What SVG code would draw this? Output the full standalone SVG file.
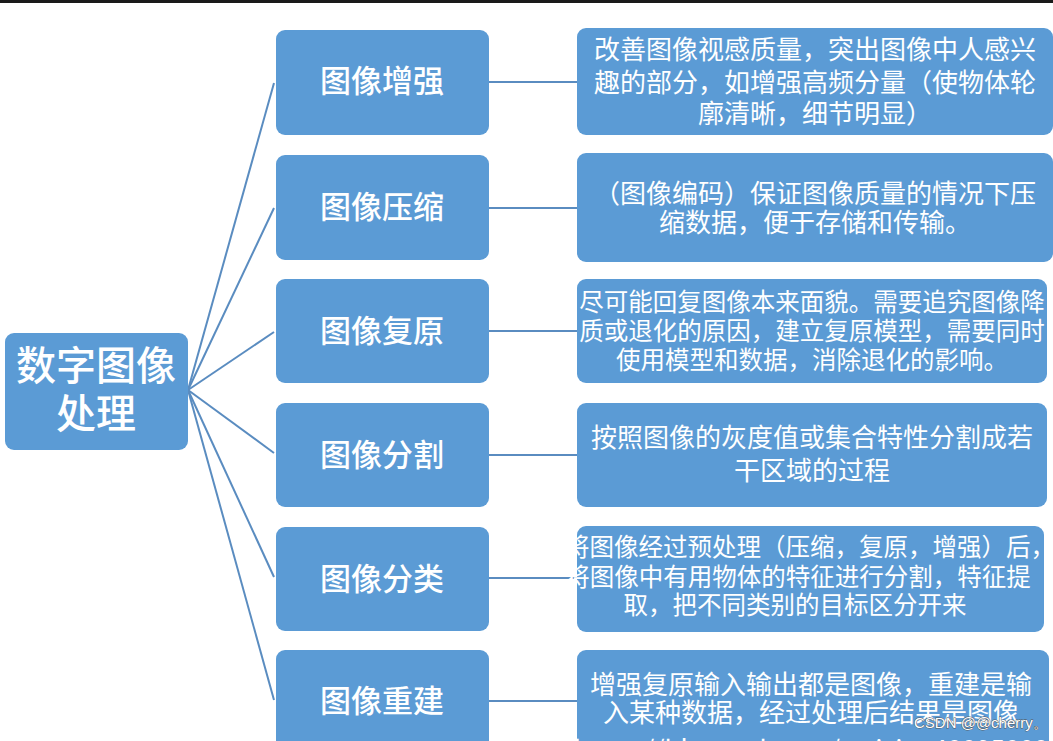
<svg xmlns="http://www.w3.org/2000/svg" width="1053" height="741" viewBox="0 0 1053 741">
<style>
.box{fill:#5b9bd5}
.t{fill:#ffffff;font-family:"Microsoft YaHei","Noto Sans CJK SC","Noto Sans",sans-serif;text-anchor:middle}
.mid{font-size:31px;font-weight:500}
.root{font-size:40px;font-weight:500}
.d26{font-size:26px}
.d245{font-size:24.5px}
.con line{stroke:#5a8cc0;stroke-width:2;fill:none}
.wm{fill:#ffffff;stroke:#555555;stroke-width:0.9;paint-order:stroke;font-family:"Liberation Sans",Arial,sans-serif;font-size:15px}
</style>
<rect x="0" y="0" width="1053" height="741" fill="#ffffff"/>
<rect x="0" y="0" width="1053" height="3" fill="#1a1a1a"/>
<g id="connectors" class="con">
<line x1="188" y1="390" x2="274" y2="83"/>
<line x1="188" y1="390" x2="274" y2="208"/>
<line x1="188" y1="390" x2="274" y2="332"/>
<line x1="188" y1="390" x2="274" y2="453"/>
<line x1="188" y1="390" x2="274" y2="577"/>
<line x1="188" y1="390" x2="274" y2="700"/>
<line x1="489" y1="82" x2="577" y2="82"/>
<line x1="489" y1="208" x2="577" y2="208"/>
<line x1="489" y1="331" x2="577" y2="331"/>
<line x1="489" y1="455" x2="577" y2="455"/>
<line x1="489" y1="578" x2="577" y2="578"/>
<line x1="489" y1="701" x2="577" y2="701"/>
</g>
<g id="root">
<rect class="box" x="5" y="333" width="183" height="117" rx="9"/>
<text class="t root" x="96" y="380">数字图像</text>
<text class="t root" x="96" y="428">处理</text>
</g>
<g id="n1">
<rect class="box" x="276" y="30" width="213" height="105" rx="9"/>
<text class="t mid" x="382" y="92">图像增强</text>
</g>
<g id="n2">
<rect class="box" x="276" y="155" width="213" height="105" rx="9"/>
<text class="t mid" x="382" y="218">图像压缩</text>
</g>
<g id="n3">
<rect class="box" x="276" y="279" width="213" height="104" rx="9"/>
<text class="t mid" x="382" y="342">图像复原</text>
</g>
<g id="n4">
<rect class="box" x="276" y="403" width="213" height="104" rx="9"/>
<text class="t mid" x="382" y="466">图像分割</text>
</g>
<g id="n5">
<rect class="box" x="276" y="527" width="213" height="104" rx="9"/>
<text class="t mid" x="382" y="590">图像分类</text>
</g>
<g id="n6">
<rect class="box" x="276" y="650" width="213" height="120" rx="9"/>
<text class="t mid" x="382" y="712">图像重建</text>
</g>
<g id="d1">
<rect class="box" x="577" y="28" width="476" height="107" rx="9"/>
<text class="t d26" x="815" y="59">改善图像视感质量，突出图像中人感兴</text>
<text class="t d26" x="815" y="92">趣的部分，如增强高频分量（使物体轮</text>
<text class="t d26" x="815" y="123">廓清晰，细节明显）</text>
</g>
<g id="d2">
<rect class="box" x="577" y="153" width="476" height="109" rx="9"/>
<text class="t d26" x="815" y="203">（图像编码）保证图像质量的情况下压</text>
<text class="t d26" x="815" y="232">缩数据，便于存储和传输。</text>
</g>
<g id="d3">
<rect class="box" x="577" y="279" width="470" height="104" rx="9"/>
<text class="t d245" x="812" y="311">尽可能回复图像本来面貌。需要追究图像降</text>
<text class="t d245" x="812" y="340">质或退化的原因，建立复原模型，需要同时</text>
<text class="t d245" x="812" y="369">使用模型和数据，消除退化的影响。</text>
</g>
<g id="d4">
<rect class="box" x="577" y="403" width="470" height="104" rx="9"/>
<text class="t d26" x="812" y="447">按照图像的灰度值或集合特性分割成若</text>
<text class="t d26" x="812" y="480">干区域的过程</text>
</g>
<g id="d5">
<rect class="box" x="577" y="526" width="467" height="106" rx="9"/>
<text class="t d245" x="810" y="556">将图像经过预处理（压缩，复原，增强）后，</text>
<text class="t d245" x="798" y="586">将图像中有用物体的特征进行分割，特征提</text>
<text class="t d245" x="795" y="614">取，把不同类别的目标区分开来</text>
</g>
<g id="d6">
<rect class="box" x="577" y="650" width="472" height="120" rx="9"/>
<text class="t d26" x="811" y="694">增强复原输入输出都是图像，重建是输</text>
<text class="t d26" x="811" y="722">入某种数据，经过处理后结果是图像</text>
<text class="t d26" x="811" y="759">https://blog.csdn.net/weixin_40095000</text>
</g>
<text class="wm" x="914" y="728">CSDN @@cherry。</text>
</svg>
